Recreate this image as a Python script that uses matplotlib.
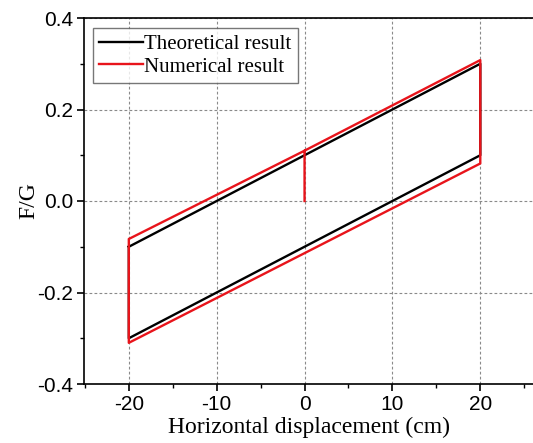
import numpy as np
import matplotlib.pyplot as plt
from matplotlib.ticker import MultipleLocator

plt.rcParams['axes.unicode_minus'] = False

# theoretical loop (x in cm, F/G)
theo_x = [-20, 20, 20, -20, -20]
theo_y = [-0.10, 0.30, 0.10, -0.30, -0.10]

# numerical loop
num_x = [0, 0, 20, 20, -20, -20, 0]
num_y = [0.0, 0.11, 0.308, 0.082, -0.31, -0.083, 0.11]

fig = plt.figure(figsize=(5.33, 4.43), dpi=100)
ax = fig.add_axes([84/533, 1-384/443, 1-84/533, (384-18)/443])

ax.plot(theo_x, theo_y, color='black', lw=1.7, label='Theoretical result')
ax.plot(num_x, num_y, color='#e8141b', lw=1.7, label='Numerical result')

ax.set_xlim(-25.1, 26)
ax.set_ylim(-0.4, 0.4)
ax.xaxis.set_major_locator(MultipleLocator(10))
ax.xaxis.set_minor_locator(MultipleLocator(5))
ax.yaxis.set_major_locator(MultipleLocator(0.2))
ax.yaxis.set_minor_locator(MultipleLocator(0.1))
ax.yaxis.set_major_formatter(plt.FuncFormatter(lambda v, p: '%.1f' % v))
ax.grid(True, which='major', ls=(0, (2.5, 2)), color='#8a8a8a', lw=0.8)

ax.spines['right'].set_visible(False)
for s in ['left', 'bottom', 'top']:
    ax.spines[s].set_linewidth(1.2)
ax.tick_params(which='major', direction='out', length=5, width=1.2,
               labelsize=15, pad=3)
ax.tick_params(which='minor', direction='out', length=3, width=1.0)
for lab in ax.get_xticklabels() + ax.get_yticklabels():
    lab.set_fontfamily('Liberation Sans')

ax.set_xlabel('Horizontal displacement (cm)', family='Liberation Serif',
              fontsize=17, labelpad=2)
ax.set_ylabel('F/G', family='Liberation Serif', fontsize=17, labelpad=-2)

leg = ax.legend(loc='upper left', bbox_to_anchor=(9/449, (384-28)/366),
                prop={'family': 'Liberation Serif', 'size': 15},
                frameon=True, fancybox=False, edgecolor='#555555',
                handlelength=2.1, handletextpad=0.05, borderpad=0.3,
                labelspacing=0.15, borderaxespad=0)
leg.get_frame().set_linewidth(1.0)

fig.savefig('out.png', dpi=100)
